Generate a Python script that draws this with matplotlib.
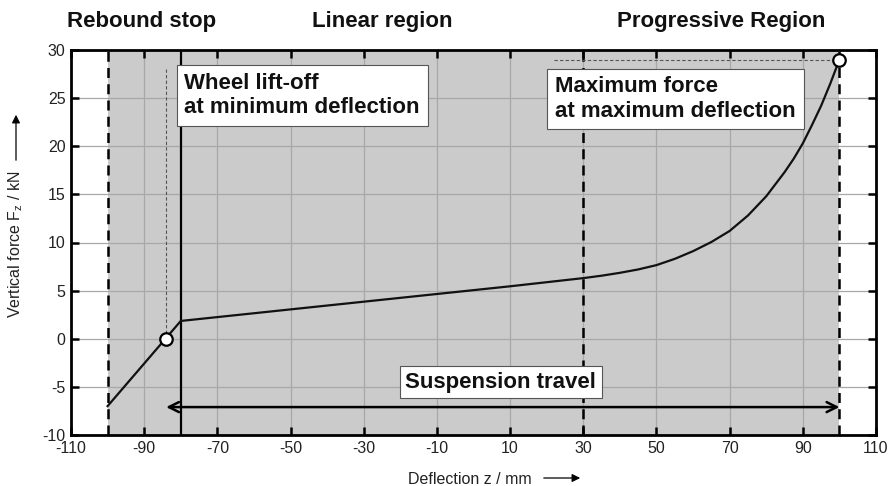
import matplotlib
matplotlib.use("Agg")
import matplotlib.pyplot as plt
from matplotlib.patches import FancyArrowPatch

plt.rcParams['font.family'] = ['Liberation Sans', 'DejaVu Sans']
plt.rcParams['mathtext.fontset'] = 'custom'
plt.rcParams['mathtext.rm'] = 'Liberation Sans'
plt.rcParams['mathtext.it'] = 'Liberation Sans:italic'
plt.rcParams['axes.unicode_minus'] = False

# Characteristic curve
deflection = [-100, -80, -50, -20, 10, 30, 35, 40, 45, 50, 55, 60, 65, 70, 75, 80, 85,
              87.5, 90, 92.5, 95, 97.5, 100]
force = [-7.0, 1.85, 3.05, 4.25, 5.45, 6.3, 6.55, 6.85, 7.2, 7.65, 8.3, 9.1, 10.05, 11.2,
         12.8, 14.8, 17.3, 18.7, 20.3, 22.2, 24.2, 26.5, 29.0]

lift_off = (-84, 0.0)
max_pt = (100, 29.0)

region_bounds = [-100, -80, 30, 100]
region_titles = ["Rebound stop", "Linear region", "Progressive Region"]
xticks = list(range(-110, 111, 20))
yticks = list(range(-10, 31, 5))

fig = plt.figure(figsize=(8.92, 4.86), dpi=100)
ax = fig.add_axes([71/892, 1-435/486, (876-71)/892, (435-50)/486])
ax.set_xlim(-110, 110)
ax.set_ylim(-10, 30)

# shaded region
ax.axvspan(region_bounds[0], region_bounds[-1], color='#cbcbcb', zorder=0, lw=0)
ax.set_xticks(xticks)
ax.set_yticks(yticks)
ax.grid(True, color='#a8a8a8', lw=0.9, zorder=1)
ax.set_axisbelow(True)

# region boundary lines
dash = (0, (4, 2.5))
ax.axvline(region_bounds[0], color='black', lw=1.8, ls=dash, zorder=3)
ax.axvline(region_bounds[1], color='black', lw=1.6, zorder=3)
ax.axvline(region_bounds[2], color='black', lw=1.8, ls=dash, zorder=3)
ax.axvline(region_bounds[3], color='black', lw=1.8, ls=dash, zorder=3)

# helper dashed lines
ax.plot([lift_off[0], lift_off[0]], [lift_off[1], 28], color='#555555', lw=0.8,
        ls=(0, (3, 2)), zorder=3)
ax.plot([22, max_pt[0]], [max_pt[1], max_pt[1]], color='#555555', lw=0.8,
        ls=(0, (3, 2)), zorder=3)

# curve
ax.plot(deflection, force, color='#111111', lw=1.6, zorder=4, solid_joinstyle='round')
ax.plot([lift_off[0], max_pt[0]], [lift_off[1], max_pt[1]], 'o', ms=9, mfc='white',
        mec='black', mew=1.6, zorder=6, ls='none')

# suspension travel arrow
ax.annotate('', xy=(lift_off[0], -7.1), xytext=(max_pt[0], -7.1),
            arrowprops=dict(arrowstyle='<->', lw=1.8, color='black',
                            mutation_scale=18, shrinkA=0, shrinkB=0), zorder=5)

bbox = dict(boxstyle='square,pad=0.35', fc='white', ec='#555555', lw=0.8)
ax.text(-79, 25.3, "Wheel lift-off\nat minimum deflection", fontsize=16, fontweight='bold',
        va='center', ha='left', bbox=bbox, zorder=7, linespacing=1.2, color='#111111')
ax.text(22.3, 24.9, "Maximum force\nat maximum deflection", fontsize=16, fontweight='bold',
        va='center', ha='left', bbox=bbox, zorder=7, linespacing=1.2, color='#111111')
ax.text(-18.6, -4.5, "Suspension travel", fontsize=16, fontweight='bold',
        va='center', ha='left', color='#111111',
        bbox=dict(boxstyle='square,pad=0.25', fc='white', ec='#555555', lw=0.8), zorder=7)

# ticks / spines
ax.tick_params(direction='in', length=6, width=1.8, top=True, right=True,
               labeltop=False, labelright=False, labelsize=11.5, colors='black',
               labelcolor='#222222', pad=4)
for s in ax.spines.values():
    s.set_linewidth(2.0)
    s.set_zorder(8)

# region titles
for title, xc in zip(region_titles, [141.5, 382, 721]):
    fig.text(xc/892, 1-21/486, title, fontsize=16, fontweight='bold', ha='center',
             va='center', color='#111111')

# axis labels with arrows
fig.text(470/892, 1-479/486, "Deflection z / mm", fontsize=11.5, ha='center', va='center',
         color='#222222')
fig.text(16/892, 1-244/486, r"Vertical force $\mathrm{F_z}$ / kN", fontsize=11.5,
         ha='center', va='center', rotation=90, color='#222222')
fig.add_artist(FancyArrowPatch((541/892, 1-478/486), (583/892, 1-478/486),
               transform=fig.transFigure, arrowstyle='-|>', mutation_scale=12, lw=0.9,
               color='black'))
fig.add_artist(FancyArrowPatch((16/892, 1-163/486), (16/892, 1-112/486),
               transform=fig.transFigure, arrowstyle='-|>', mutation_scale=12, lw=0.9,
               color='black'))

fig.savefig("out.png", dpi=100)
